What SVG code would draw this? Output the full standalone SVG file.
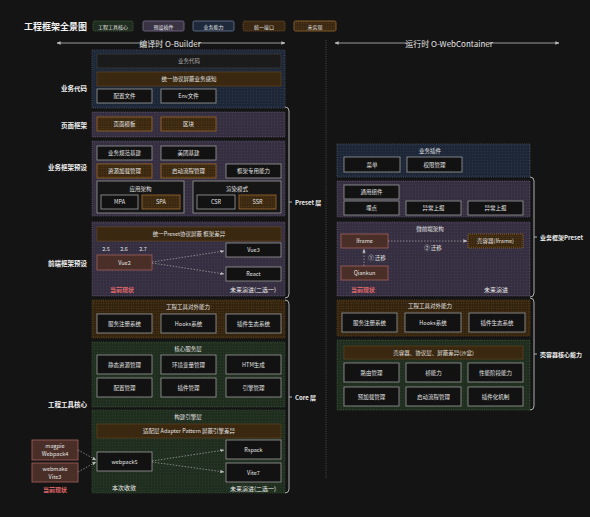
<svg xmlns="http://www.w3.org/2000/svg" width="590" height="517" viewBox="0 0 590 517">
<defs>
<pattern id="dots" width="3" height="3" patternUnits="userSpaceOnUse"><circle cx="1.5" cy="1.5" r="0.45" fill="#ffffff" fill-opacity="0.13"/></pattern>
<pattern id="dotsO" width="2.5" height="2.5" patternUnits="userSpaceOnUse"><circle cx="1.25" cy="1.25" r="0.45" fill="#c08040" fill-opacity="0.4"/></pattern>
<marker id="ah" viewBox="0 0 6 6" refX="5.5" refY="3" markerWidth="5" markerHeight="5" orient="auto"><path d="M0,0.5 L6,3 L0,5.5 z" fill="#bbbbbb"/></marker>
<marker id="ahs" viewBox="0 0 6 6" refX="0.5" refY="3" markerWidth="5" markerHeight="5" orient="auto"><path d="M6,0.5 L0,3 L6,5.5 z" fill="#bbbbbb"/></marker>
<style>
text{font-family:"Noto Sans CJK SC","Noto Sans",sans-serif;fill:#e4e4e4}
.t{font-size:5.5px;text-anchor:middle;dominant-baseline:central}
.lbl{font-size:6.5px;font-weight:bold;text-anchor:end;dominant-baseline:central;fill:#f0f0f0}
.br{font-size:6px;font-weight:bold;dominant-baseline:central;fill:#eeeeee}
.cur{font-size:6px;text-anchor:middle;dominant-baseline:central;fill:#e06a6a;font-weight:bold}
.fut{font-size:6px;text-anchor:middle;dominant-baseline:central;fill:#eeeeee}
.navy{fill:#1d2738;stroke:#4d5a72;stroke-width:0.8;stroke-dasharray:1 1.2}
.purp{fill:#362f41;stroke:#5e546e;stroke-width:0.8;stroke-dasharray:1 1.2}
.brsec{fill:#33240f;stroke:#6a4b20;stroke-width:0.8;stroke-dasharray:1 1.2}
.green{fill:#1f2e1f;stroke:#3e553e;stroke-width:0.8;stroke-dasharray:1 1.2}
.blk{fill:#121212;stroke:#8f8f8f;stroke-width:0.9}
.dk{fill:#1b1b1b;stroke:#3a3a3a;stroke-width:0.8}
.brn{fill:#3a2810;stroke:#5c4020;stroke-width:0.8}
.todo{fill:#3a2810;stroke:#93622a;stroke-width:0.9}
.red{fill:#4a2f28;stroke:#9a5a55;stroke-width:0.9}
.grp{fill:#161616;stroke:#8f8f8f;stroke-width:0.9}
.dash{fill:none;stroke:#9a9a9a;stroke-width:0.8;stroke-dasharray:1.5 1.5;marker-end:url(#ah)}
.brk{fill:none;stroke:#bdbdbd;stroke-width:0.9}
</style>
</defs>
<rect x="0" y="0" width="590" height="517" fill="#141414"/>

<g id="header">
<text x="24" y="26" style="font-size:9px;font-weight:bold;dominant-baseline:central;fill:#f2f2f2">工程框架全景图</text>
<rect x="93" y="21" width="40" height="10" rx="1.5" fill="#1f2d1f" stroke="#4f6d4f" stroke-width="0.8" stroke-dasharray="1 1"/>
<text class="t" x="113" y="26" style="font-size:5px">工程工具核心</text>
<rect x="143" y="21" width="41" height="10" rx="1.5" fill="#3a3344" stroke="#7a7090" stroke-width="0.8"/>
<text class="t" x="163.5" y="26" style="font-size:5px">预设插件</text>
<rect x="193" y="21" width="41" height="10" rx="1.5" fill="#1e2a3c" stroke="#6a7a95" stroke-width="0.8"/>
<text class="t" x="213.5" y="26" style="font-size:5px">业务能力</text>
<rect x="243" y="21" width="42" height="10" rx="1.5" fill="#3a2812" stroke="#8a6030" stroke-width="0.8" stroke-dasharray="1 1"/>
<text class="t" x="264" y="26" style="font-size:5px">统一接口</text>
<rect x="294" y="21" width="42" height="10" rx="1.5" fill="#3a2812" stroke="#9a6a30" stroke-width="0.8"/>
<rect x="294" y="21" width="42" height="10" rx="1.5" fill="url(#dotsO)"/>
<text class="t" x="315" y="26" style="font-size:5px">未实现</text>
</g>

<g id="timelines">
<line x1="57" y1="43" x2="285" y2="43" stroke="#bbbbbb" stroke-width="0.8" marker-start="url(#ahs)" marker-end="url(#ah)"/>
<rect x="142" y="37" width="56" height="12" fill="#141414"/>
<text x="170" y="43" style="font-size:8px;text-anchor:middle;dominant-baseline:central">编译时 O-Builder</text>
<line x1="335" y1="43" x2="559" y2="43" stroke="#bbbbbb" stroke-width="0.8" marker-start="url(#ahs)" marker-end="url(#ah)"/>
<rect x="409" y="37" width="80" height="12" fill="#141414"/>
<text x="449" y="43" style="font-size:8px;text-anchor:middle;dominant-baseline:central">运行时 O-WebContainer</text>
<line x1="326" y1="40" x2="326" y2="479" stroke="#5a5a66" stroke-width="0.8" stroke-dasharray="1 1.3"/>
</g>

<g id="sec-bizcode">
<rect class="navy" x="92" y="50" width="193" height="58"/>
<rect x="92" y="50" width="193" height="58" fill="url(#dots)"/>
<text class="lbl" x="87" y="88">业务代码</text>
<rect class="dk" x="97" y="54" width="184" height="14"/>
<text class="t" x="189" y="61" style="fill:#aaaaaa">业务代码</text>
<rect class="brn" x="97" y="72" width="184" height="14"/>
<text class="t" x="189" y="79">统一协议屏蔽业务感知</text>
<rect class="blk" x="97" y="89" width="55" height="14"/>
<text class="t" x="124.5" y="96">配置文件</text>
<rect class="blk" x="161" y="89" width="55" height="14"/>
<text class="t" x="188.5" y="96">Env文件</text>
</g>

<g id="sec-page">
<rect class="purp" x="92" y="112" width="193" height="25"/>
<rect x="92" y="112" width="193" height="25" fill="url(#dots)"/>
<text class="lbl" x="87" y="125">页面框架</text>
<rect class="todo" x="97" y="117" width="55" height="14"/>
<rect x="97" y="117" width="55" height="14" fill="url(#dotsO)"/>
<text class="t" x="124.5" y="124">页面模板</text>
<rect class="todo" x="161" y="117" width="55" height="14"/>
<rect x="161" y="117" width="55" height="14" fill="url(#dotsO)"/>
<text class="t" x="188.5" y="124">区块</text>
</g>

<g id="sec-bizpreset">
<rect class="purp" x="92" y="141" width="193" height="75"/>
<rect x="92" y="141" width="193" height="75" fill="url(#dots)"/>
<text class="lbl" x="87" y="167">业务框架预设</text>
<rect class="blk" x="97" y="146" width="55" height="14"/>
<text class="t" x="124.5" y="153">业务规范基建</text>
<rect class="blk" x="161" y="146" width="55" height="14"/>
<text class="t" x="188.5" y="153">美团基建</text>
<rect class="todo" x="97" y="164" width="55" height="14"/>
<rect x="97" y="164" width="55" height="14" fill="url(#dotsO)"/>
<text class="t" x="124.5" y="171">资源加载管理</text>
<rect class="todo" x="161" y="164" width="55" height="14"/>
<rect x="161" y="164" width="55" height="14" fill="url(#dotsO)"/>
<text class="t" x="188.5" y="171">启动流程管理</text>
<rect class="blk" x="226" y="164" width="55" height="14"/>
<text class="t" x="253.5" y="171">框架专用能力</text>
<rect class="grp" x="97" y="181" width="87" height="32"/>
<text class="t" x="140.5" y="189">应用架构</text>
<rect class="blk" x="101" y="195" width="37" height="14"/>
<text class="t" x="119.5" y="202">MPA</text>
<rect class="todo" x="142" y="195" width="38" height="14"/>
<rect x="142" y="195" width="38" height="14" fill="url(#dotsO)"/>
<text class="t" x="161" y="202">SPA</text>
<rect class="grp" x="193" y="181" width="88" height="32"/>
<text class="t" x="237" y="189">渲染模式</text>
<rect class="blk" x="197" y="195" width="38" height="14"/>
<text class="t" x="216" y="202">CSR</text>
<rect class="todo" x="239" y="195" width="37" height="14"/>
<rect x="239" y="195" width="37" height="14" fill="url(#dotsO)"/>
<text class="t" x="257.5" y="202">SSR</text>
</g>

<g id="sec-fepreset">
<rect class="purp" x="92" y="222" width="193" height="74"/>
<rect x="92" y="222" width="193" height="74" fill="url(#dots)"/>
<text class="lbl" x="87" y="263">前端框架预设</text>
<rect class="brn" x="97" y="227" width="184" height="14"/>
<text class="t" x="189" y="234">统一Preset协议屏蔽 框架差异</text>
<text class="t" x="106" y="249">2.5</text>
<text class="t" x="124" y="249">2.6</text>
<text class="t" x="143" y="249">2.7</text>
<rect class="red" x="97" y="255" width="55" height="15"/>
<text class="t" x="124.5" y="262.5">Vue2</text>
<rect class="blk" x="226" y="243" width="55" height="14"/>
<text class="t" x="253.5" y="250">Vue3</text>
<rect class="blk" x="226" y="267" width="55" height="14"/>
<text class="t" x="253.5" y="274">React</text>
<text class="cur" x="122" y="289">当前现状</text>
<text class="fut" x="253" y="289">未来演进(二选一)</text>
</g>

<g id="sec-ext-left">
<rect class="brsec" x="92" y="300" width="193" height="38"/>
<rect x="92" y="300" width="193" height="38" fill="url(#dotsO)"/>
<text class="t" x="188" y="307">工程工具对外能力</text>
<rect class="blk" x="97" y="314" width="55" height="19"/>
<text class="t" x="124.5" y="323.5">服务注册系统</text>
<rect class="blk" x="161" y="314" width="55" height="19"/>
<text class="t" x="188.5" y="323.5">Hooks系统</text>
<rect class="blk" x="226" y="314" width="55" height="19"/>
<text class="t" x="253.5" y="323.5">插件生态系统</text>
</g>

<g id="sec-core">
<rect class="green" x="92" y="342" width="193" height="65"/>
<rect x="92" y="342" width="193" height="65" fill="url(#dots)"/>
<text class="lbl" x="87" y="404">工程工具核心</text>
<text class="t" x="188" y="349">核心服务层</text>
<rect class="blk" x="97" y="355" width="55" height="19"/>
<text class="t" x="124.5" y="364.5">静态资源管理</text>
<rect class="blk" x="161" y="355" width="55" height="19"/>
<text class="t" x="188.5" y="364.5">环境变量管理</text>
<rect class="blk" x="226" y="355" width="55" height="19"/>
<text class="t" x="253.5" y="364.5">HTM生成</text>
<rect class="blk" x="97" y="378" width="55" height="19"/>
<text class="t" x="124.5" y="387.5">配置管理</text>
<rect class="blk" x="161" y="378" width="55" height="19"/>
<text class="t" x="188.5" y="387.5">插件管理</text>
<rect class="blk" x="226" y="378" width="55" height="19"/>
<text class="t" x="253.5" y="387.5">引擎管理</text>
</g>

<g id="sec-build">
<rect class="green" x="92" y="410" width="193" height="83"/>
<rect x="92" y="410" width="193" height="83" fill="url(#dots)"/>
<text class="t" x="188" y="417">构建引擎层</text>
<rect class="brn" x="97" y="424" width="184" height="14"/>
<text class="t" x="189" y="431">适配层 Adapter Pattern 屏蔽引擎差异</text>
<rect class="blk" x="97" y="452" width="55" height="19"/>
<text class="t" x="124.5" y="461.5">webpack5</text>
<rect class="blk" x="226" y="440" width="55" height="19"/>
<text class="t" x="253.5" y="449.5">Rspack</text>
<rect class="blk" x="226" y="463" width="55" height="19"/>
<text class="t" x="253.5" y="472.5">Vite7</text>
<text class="fut" x="124" y="487">本次收敛</text>
<text class="fut" x="253" y="488">未来演进(二选一)</text>
</g>

<g id="legacy">
<rect class="red" x="32" y="440" width="46" height="20"/>
<text class="t" x="55" y="446">magpie</text>
<text class="t" x="55" y="454">Webpack4</text>
<rect class="red" x="32" y="463" width="46" height="19"/>
<text class="t" x="55" y="469">webmake</text>
<text class="t" x="55" y="476.5">Vite3</text>
<text class="cur" x="55" y="489">当前现状</text>
</g>

<g id="sec-bizplugin">
<rect class="navy" x="337" y="144" width="193" height="33"/>
<rect x="337" y="144" width="193" height="33" fill="url(#dots)"/>
<text class="t" x="430" y="151">业务插件</text>
<rect class="blk" x="344" y="157" width="56" height="15"/>
<text class="t" x="372" y="164.5">菜单</text>
<rect class="blk" x="407" y="157" width="55" height="15"/>
<text class="t" x="434.5" y="164.5">权限管理</text>
</g>

<g id="sec-common">
<rect class="purp" x="337" y="181" width="193" height="36"/>
<rect x="337" y="181" width="193" height="36" fill="url(#dots)"/>
<rect class="blk" x="344" y="185" width="55" height="14"/>
<text class="t" x="371.5" y="192">通用组件</text>
<rect class="blk" x="344" y="201" width="55" height="14"/>
<text class="t" x="371.5" y="208">埋点</text>
<rect class="blk" x="406" y="201" width="55" height="14"/>
<text class="t" x="433.5" y="208">异常上报</text>
<rect class="blk" x="468" y="201" width="55" height="14"/>
<text class="t" x="495.5" y="208">异常上报</text>
</g>

<g id="sec-micro">
<rect class="purp" x="337" y="222" width="193" height="74"/>
<rect x="337" y="222" width="193" height="74" fill="url(#dots)"/>
<text class="t" x="430" y="229">微前端架构</text>
<rect class="red" x="341" y="234" width="47" height="14"/>
<text class="t" x="364.5" y="241">Iframe</text>
<rect class="todo" x="468" y="234" width="55" height="14" stroke-dasharray="1 1"/>
<rect x="468" y="234" width="55" height="14" fill="url(#dotsO)"/>
<text class="t" x="495.5" y="241">壳容器(Iframe)</text>
<rect class="red" x="341" y="266" width="47" height="14"/>
<text class="t" x="364.5" y="273">Qiankun</text>
<text class="t" x="433" y="248">② 迁移</text>
<text class="t" x="377" y="258">① 迁移</text>
<text class="cur" x="363" y="289">当前现状</text>
<text class="fut" x="496" y="289">未来演进</text>
</g>

<g id="sec-ext-right">
<rect class="brsec" x="337" y="300" width="193" height="36"/>
<rect x="337" y="300" width="193" height="36" fill="url(#dotsO)"/>
<text class="t" x="430" y="306">工程工具对外能力</text>
<rect class="blk" x="342" y="313" width="55" height="19"/>
<text class="t" x="369.5" y="322.5">服务注册系统</text>
<rect class="blk" x="405" y="313" width="56" height="19"/>
<text class="t" x="433" y="322.5">Hooks系统</text>
<rect class="blk" x="469" y="313" width="56" height="19"/>
<text class="t" x="497" y="322.5">插件生态系统</text>
</g>

<g id="sec-shell">
<rect class="green" x="337" y="340" width="193" height="70"/>
<rect x="337" y="340" width="193" height="70" fill="url(#dots)"/>
<rect class="brn" x="344" y="346" width="179" height="13"/>
<text class="t" x="433.5" y="352.5">壳容器、协议层、屏蔽差异(沙盒)</text>
<rect class="blk" x="344" y="363" width="55" height="19"/>
<text class="t" x="371.5" y="372.5">路由管理</text>
<rect class="blk" x="406" y="363" width="55" height="19"/>
<text class="t" x="433.5" y="372.5">桥能力</text>
<rect class="blk" x="468" y="363" width="55" height="19"/>
<text class="t" x="495.5" y="372.5">性能阶段能力</text>
<rect class="blk" x="344" y="387" width="55" height="19"/>
<text class="t" x="371.5" y="396.5">预加载管理</text>
<rect class="blk" x="406" y="387" width="55" height="19"/>
<text class="t" x="433.5" y="396.5">启动流程管理</text>
<rect class="blk" x="468" y="387" width="55" height="19"/>
<text class="t" x="495.5" y="396.5">插件化机制</text>
</g>

<g id="connectors">
<path class="dash" d="M152,262 L224,251"/>
<path class="dash" d="M152,263 L224,274"/>
<path class="dash" d="M152,461 L224,450"/>
<path class="dash" d="M152,462 L224,472"/>
<path class="dash" d="M78,450 L96,460"/>
<path class="dash" d="M78,472 L96,462"/>
<path class="dash" d="M388,241 L467,241"/>
<path class="dash" d="M364,266 L364,249"/>
</g>

<g id="brackets">
<path class="brk" d="M285,107 Q289,107 289,111 L289,294 Q289,298 285,298 M289,202 L292,202"/>
<text class="br" x="295" y="202">Preset 层</text>
<path class="brk" d="M285,300 Q289,300 289,304 L289,489 Q289,493 285,493 M289,397 L292,397"/>
<text class="br" x="295" y="397">Core 层</text>
<path class="brk" d="M530,177 Q534,177 534,181 L534,293 Q534,297 530,297 M534,237 L537,237"/>
<text class="br" x="540" y="237">业务框架Preset</text>
<path class="brk" d="M530,298 Q534,298 534,302 L534,406 Q534,410 530,410 M534,354 L537,354"/>
<text class="br" x="540" y="354">壳容器核心能力</text>
</g>
</svg>
